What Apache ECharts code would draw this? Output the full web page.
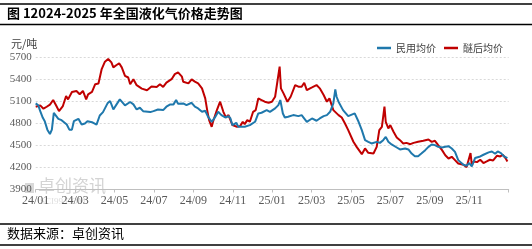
<!DOCTYPE html>
<html><head><meta charset="utf-8">
<script src="https://cdn.jsdelivr.net/npm/echarts@6/dist/echarts.min.js"></script>
<style>html,body{margin:0;padding:0;background:#fff}#c{width:532px;height:249px}</style>
</head><body><div id="c"></div>
<script>
// Day offsets from 2024-01-01 and prices (元/吨)
const civilDay = [0,4,7,11,14,18,22,25,28,30,35,40,48,52,56,59,66,71,76,80,87,94,99,104,111,115,120,125,130,133,138,146,151,156,161,166,177,182,189,197,202,208,213,217,220,228,233,241,246,251,257,262,267,272,277,282,287,293,298,301,304,310,313,316,323,331,339,344,349,357,362,370,375,378,382,385,390,398,406,411,419,427,434,439,445,450,455,460,463,465,468,475,483,493,499,504,509,514,519,527,532,537,541,545,550,558,563,571,576,581,586,591,596,602,607,612,617,622,628,633,638,643,648,653,656,661,666,670,674,679,687,692,700,705,710,714,719,724,729];
const civilPrice = [5073,5045,4967,4876,4830,4715,4656,4715,4944,4967,4862,4844,4784,4715,4715,4830,4862,4784,4798,4830,4816,4784,4908,4954,5073,5105,4990,5059,5127,5118,5045,5091,5059,4990,5013,4967,4954,4967,4990,4981,5027,5059,5059,5118,5068,5072,5049,5081,5027,5004,4958,4972,4881,4822,4881,4958,4913,4881,4899,4867,4776,4808,4754,4731,4754,4776,4822,4935,4945,4981,4958,5004,5049,5118,4935,4881,4890,4913,4899,4913,4822,4867,4836,4867,4899,4913,4958,5072,5263,5163,5095,4981,4899,4936,4822,4708,4572,4549,4527,4549,4535,4572,4617,4549,4513,4472,4445,4459,4445,4390,4354,4354,4390,4436,4481,4513,4504,4481,4472,4481,4490,4459,4413,4300,4305,4237,4223,4260,4214,4328,4350,4373,4405,4418,4387,4418,4396,4350,4328];
const etherDay = [0,7,12,17,22,27,32,36,42,47,50,56,63,68,73,78,81,87,92,97,102,107,112,117,120,125,129,133,138,143,146,151,156,164,172,179,187,192,197,202,210,215,220,226,228,236,241,246,251,257,262,265,268,272,274,280,285,287,290,294,298,300,304,311,316,320,323,327,331,336,340,344,349,354,360,365,370,373,377,379,383,389,394,401,406,411,415,419,427,434,439,445,450,454,460,468,473,478,483,491,496,504,509,514,522,527,531,535,537,539,541,545,548,553,558,563,568,573,579,584,591,599,607,612,617,622,628,633,638,643,648,653,656,661,666,668,672,674,677,682,687,692,697,702,707,713,718,722,726,729];
const etherPrice = [5027,5045,5000,5027,5055,5118,5036,4967,5036,5173,5127,5228,5242,5196,5242,5127,5196,5228,5334,5343,5540,5640,5677,5631,5563,5595,5618,5563,5448,5425,5334,5402,5320,5274,5251,5302,5297,5334,5297,5356,5402,5471,5494,5436,5368,5345,5400,5368,5345,5277,5140,4981,4845,4754,4822,4981,5095,5118,4958,4881,4913,4890,4776,4754,4763,4822,4790,4845,4822,4958,4981,5140,5118,5095,5081,5095,5163,5186,5573,5277,5209,5095,5163,5322,5300,5300,5354,5254,5290,5322,5277,5186,5095,5140,4981,4913,4881,4799,4708,4550,4480,4381,4459,4400,4390,4481,4708,4754,4890,5030,4822,4731,4777,4686,4609,4572,4527,4535,4517,4535,4549,4563,4581,4549,4563,4504,4436,4367,4322,4345,4300,4254,4250,4237,4205,4178,4396,4237,4282,4273,4305,4260,4282,4305,4296,4360,4350,4373,4328,4282];
const seriesNames = ['民用均价','醚后均价'];
const yTicks = {min:3900, max:5700, step:300};
const spanDays = 731; // 2024-01-01 .. 2026-01-01

const zip = (a,b) => a.map((d,i)=>[d,b[i]]);
const chart = echarts.init(document.getElementById('c'), null, {renderer:'canvas'});
const step = spanDays/12;
const cjk = '"Noto Sans CJK SC", "Noto Sans", sans-serif';
const serif = '"Liberation Serif", "DejaVu Serif", serif';
chart.setOption({
  animation:false,
  backgroundColor:'#fff',
  grid:{left:35.7, right:23.3, top:57.3, bottom:59.5, containLabel:false},
  legend:{
    data:seriesNames, right:24, top:38, icon:'rect', itemWidth:14, itemHeight:2.5, itemGap:8,
    textStyle:{fontFamily:cjk, fontSize:10, color:'#404040'}
  },
  xAxis:{
    type:'value', min:0, max:spanDays, interval:step,
    axisLine:{show:true, lineStyle:{color:'#bfbfbf', width:1}},
    axisTick:{show:true, length:3, lineStyle:{color:'#bfbfbf'}},
    splitLine:{show:false},
    axisLabel:{
      fontFamily:serif, fontSize:12, color:'#595959', margin:5, showMaxLabel:false,
      formatter:(v)=>{const i=Math.round(v/step); if(i>=12) return ''; const yy=24+Math.floor(i/6); const mm=(i%6)*2+1; return yy+'/'+(mm<10?'0':'')+mm;}
    }
  },
  yAxis:{
    type:'value', min:yTicks.min, max:yTicks.max, interval:yTicks.step,
    axisLine:{show:false}, axisTick:{show:false},
    splitLine:{lineStyle:{color:'#d9d9d9', type:[2,2], width:1}},
    axisLabel:{fontFamily:serif, fontSize:11, color:'#595959', margin:4, formatter:(v)=>String(v)}
  },
  series:[
    {name:seriesNames[1], type:'line', data:zip(etherDay, etherPrice), showSymbol:false, symbol:'none',
     lineStyle:{color:'#C00000', width:2}, itemStyle:{color:'#C00000'}, z:2},
    {name:seriesNames[0], type:'line', data:zip(civilDay, civilPrice), showSymbol:false, symbol:'none',
     lineStyle:{color:'#1F78AC', width:2}, itemStyle:{color:'#1F78AC'}, z:3}
  ],
  graphic:[
    {type:'line', shape:{x1:0,y1:4,x2:532,y2:4}, style:{stroke:'#000', lineWidth:1.5}},
    {type:'line', shape:{x1:0,y1:24.5,x2:532,y2:24.5}, style:{stroke:'#000', lineWidth:1.5}},
    {type:'line', shape:{x1:0,y1:224,x2:532,y2:224}, style:{stroke:'#000', lineWidth:1.5}},
    {type:'line', shape:{x1:0,y1:245,x2:532,y2:245}, style:{stroke:'#000', lineWidth:1.5}},
    {type:'text', left:7, top:7, style:{text:'图 12024-2025 年全国液化气价格走势图', font:'bold 13px '+cjk, fill:'#000'}},
    {type:'text', left:7, top:227, style:{text:'数据来源：卓创资讯', font:'13px '+cjk, fill:'#000'}},
    {type:'text', left:11, top:38, style:{text:'元/吨', font:'11px '+cjk, fill:'#404040'}},
    {type:'rect', shape:{x:25,y:183,width:9,height:10}, style:{fill:'#d9d9d9'}, z:0},
    {type:'text', left:38, top:177, z:0, style:{text:'卓创资讯', font:'17px '+cjk, fill:'#d4d4d4'}},
    {type:'text', left:40, top:197, z:0, style:{text:'SCI99.COM', font:'9px '+serif, fill:'#dedede'}}
  ]
});
</script></body></html>
